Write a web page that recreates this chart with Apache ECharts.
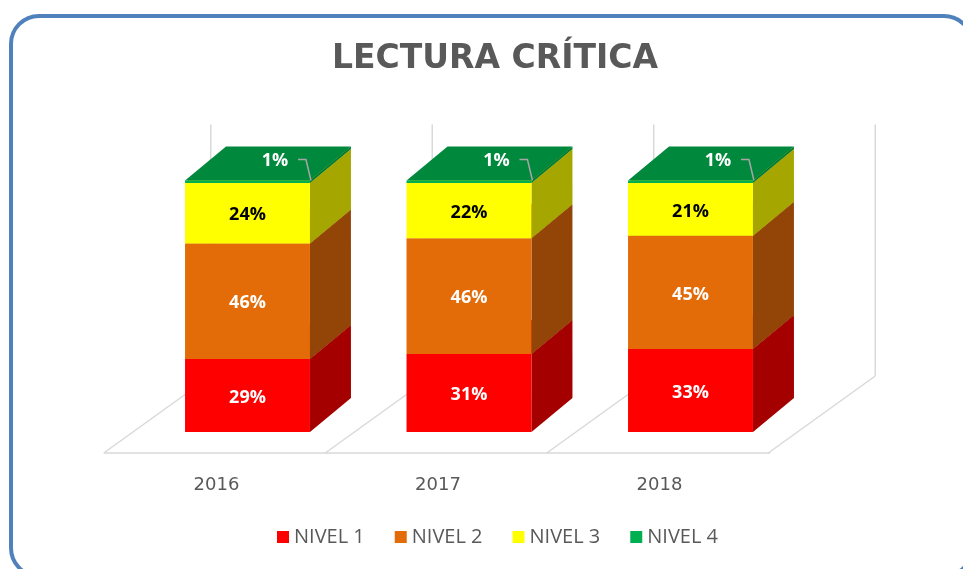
<!DOCTYPE html>
<html>
  <head>
    <meta charset="UTF-8">
    <title>Lectura crítica</title>
    <script src="https://cdn.jsdelivr.net/npm/echarts@6/dist/echarts.min.js"></script>
  </head>
  <body style="margin:0;background:#fff">
    <div id="box" style="width:963px;height:569px"></div>
    <script>
        var years = ['2016', '2017', '2018'];
        var nivel1 = [29, 31, 33];
        var nivel2 = [46, 46, 45];
        var nivel3 = [24, 22, 21];
        var nivel4 = [1, 1, 1];
        var names = ['NIVEL 1', 'NIVEL 2', 'NIVEL 3', 'NIVEL 4'];

        // colores: frente, lado, tapa
        var caras = [
            ['#FF0000', '#A40000', '#C00000'],
            ['#E36C09', '#934507', '#B85808'],
            ['#FFFF00', '#A6A600', '#D0D000'],
            ['#00B050', '#007A38', '#00883C']
        ];
        var DX = 41, DY = -34;      // profundidad de las cajas
        var FX1 = -29, FY1 = 21;    // borde delantero del piso
        var FX2 = 78, FY2 = -56;    // pared del fondo

        var niveles = [nivel1, nivel2, nivel3, nivel4];
        var base = [0, 0, 0];
        var datos = niveles.map(function (arr) {
            return arr.map(function (v, i) {
                var d = [i, base[i], base[i] + v, v];
                base[i] += v;
                return d;
            });
        });

        function caja(s) {
            return function (params, api) {
                var i = api.value(0);
                var a = api.coord([i, api.value(1)]);
                var b = api.coord([i, api.value(2)]);
                var bw = api.size([1, 0])[0] * 0.564;
                var x0 = a[0] - bw / 2, x1 = a[0] + bw / 2, yb = a[1], yt = b[1];
                var c = caras[s];
                var hijos = [
                    {type: 'polygon', shape: {points: [[x0, yt], [x1, yt], [x1 + DX, yt + DY], [x0 + DX, yt + DY]]},
                     style: {fill: c[2]}},
                    {type: 'polygon', shape: {points: [[x1, yb], [x1 + DX, yb + DY], [x1 + DX, yt + DY], [x1, yt]]},
                     style: {fill: c[1]}},
                    {type: 'rect', shape: {x: x0, y: yt, width: bw, height: yb - yt}, style: {fill: c[0]}}
                ];
                var txt = api.value(3) + '%';
                if (s === 3) {
                    hijos.push({type: 'polyline', shape: {points: [[x1 - 12, yt - 21], [x1 - 4, yt - 21], [x1 + 1, yt]]},
                        style: {stroke: '#A6A6A6', lineWidth: 1.5, fill: null}});
                    hijos.push({type: 'text', style: {x: x1 - 35, y: yt - 20, text: txt, fill: '#fff',
                        font: 'bold 18px "Open Sans"', align: 'center', verticalAlign: 'middle'}});
                } else {
                    hijos.push({type: 'text', style: {x: a[0], y: (yb + yt) / 2 + 2, text: txt,
                        fill: s === 2 ? '#000' : '#fff',
                        font: 'bold 18px "Open Sans"', align: 'center', verticalAlign: 'middle'}});
                }
                return {type: 'group', children: hijos};
            };
        }

        function paredes(params, api) {
            var i = api.value(0);
            var p0 = api.coord([i, 0]), p100 = api.coord([i, 100]);
            var bw = api.size([1, 0])[0];
            var gris = {stroke: '#D9D9D9', lineWidth: 1.5};
            var hijos = [];
            var xs = [p0[0] - bw / 2 - 4];
            if (i === years.length - 1) xs.push(p0[0] + bw / 2 - 4);
            xs.forEach(function (x) {
                hijos.push({type: 'line', shape: {x1: x + FX1, y1: p0[1] + FY1, x2: x + FX2, y2: p0[1] + FY2}, style: gris});
                hijos.push({type: 'line', shape: {x1: x + FX2, y1: p0[1] + FY2, x2: x + FX2, y2: p100[1] + FY2}, style: gris});
            });
            hijos.push({type: 'line', shape: {x1: xs[0] + FX1, y1: p0[1] + FY1, x2: xs[0] + FX1 + bw + 2, y2: p0[1] + FY1}, style: gris});
            return {type: 'group', children: hijos};
        }

        var series = [{
            type: 'custom',
            name: 'piso',
            renderItem: paredes,
            data: years.map(function (y, i) { return [i]; }),
            encode: {x: 0},
            silent: true
        }];
        niveles.forEach(function (arr, s) {
            series.push({
                type: 'custom',
                name: names[s],
                renderItem: caja(s),
                itemStyle: {color: caras[s][0]},
                data: datos[s],
                encode: {x: 0, y: [1, 2]}
            });
        });

        var myChart = echarts.init(document.getElementById('box'));
        myChart.setOption({
            animation: false,
            backgroundColor: '#fff',
            color: ['#FF0000', '#E36C09', '#FFFF00', '#00B050'],
            title: {
                text: 'LECTURA CRÍTICA',
                left: 490,
                top: 38,
                textAlign: 'center',
                textStyle: {fontFamily: 'DejaVu Sans', fontWeight: 'bold', fontSize: 33, color: '#595959'}
            },
            graphic: [{
                type: 'rect',
                shape: {x: 11, y: 16, width: 961, height: 560, r: 28},
                style: {fill: null, stroke: '#4F81BD', lineWidth: 4},
                silent: true
            }],
            legend: {
                data: names,
                left: 277,
                top: 527,
                padding: 0,
                icon: 'rect',
                itemWidth: 12,
                itemHeight: 12,
                itemGap: 30,
                textStyle: {fontFamily: 'Open Sans', fontSize: 20, color: '#595959'}
            },
            grid: {left: 136.75, top: 180.5, width: 664.5, height: 251.5},
            xAxis: {
                type: 'category',
                data: years,
                axisLine: {show: false},
                axisTick: {show: false},
                axisLabel: {
                    margin: 44,
                    padding: [0, 62, 0, 0],
                    fontFamily: 'DejaVu Sans',
                    fontSize: 18,
                    color: '#595959'
                }
            },
            yAxis: {
                type: 'value',
                min: 0,
                max: 100,
                show: false
            },
            series: series
        });
    </script>
  </body>
</html>
